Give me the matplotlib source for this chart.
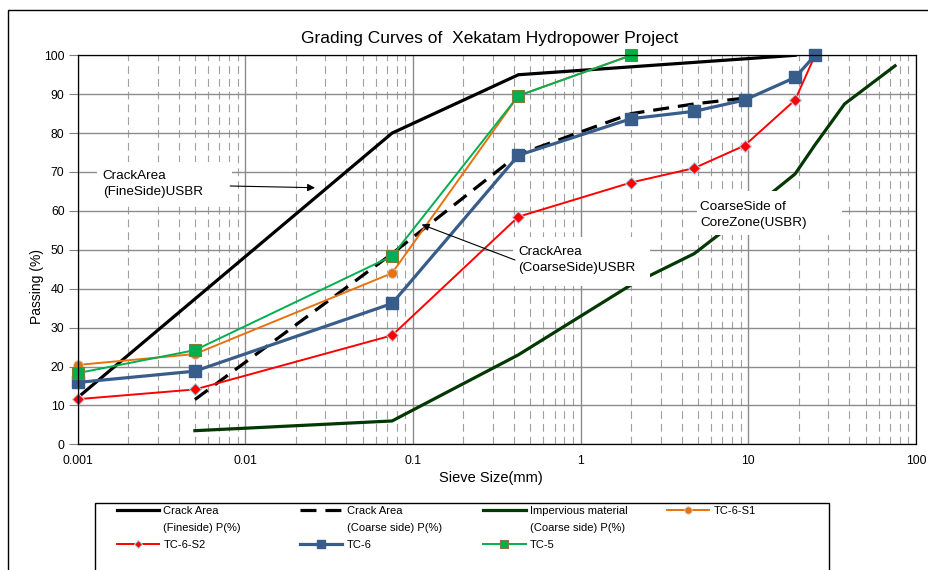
import matplotlib
matplotlib.use("Agg")
import matplotlib.pyplot as plt
from matplotlib.lines import Line2D
from matplotlib.patches import Rectangle
from matplotlib.ticker import FixedLocator, FuncFormatter, LogLocator

plt.rcParams["font.family"] = ["Liberation Sans", "DejaVu Sans"]

# sieve sizes (mm) and passing (%)
sieve_fine = [0.001, 0.075, 0.425, 19]
pass_fine = [12, 80, 95, 100]

sieve_coarse = [0.005, 0.075, 0.425, 2, 4.75, 9.5]
pass_coarse = [11.5, 49, 74.5, 85, 87.5, 89]

sieve_imperv = [0.005, 0.075, 0.425, 2, 4.75, 9.5, 19, 25, 37.5, 75]
pass_imperv = [3.5, 6, 23, 41, 49, 59, 69.5, 77, 87.5, 97.3]

sieve_tc = [0.001, 0.005, 0.075, 0.425, 2, 4.75, 9.5, 19, 25]
pass_tc6_s1 = [20.4, 23.2, 44, 89.6, 100]
pass_tc6_s2 = [11.6, 14.1, 28, 58.5, 67.3, 71, 76.8, 88.5, 100]
pass_tc6 = [15.9, 18.8, 36.2, 74.3, 83.7, 85.6, 88.5, 94.3, 100]
pass_tc5 = [18.3, 24.2, 48.4, 89.6, 100]

x_ticks = [0.001, 0.01, 0.1, 1, 10, 100]
y_ticks = list(range(0, 101, 10))

W, H = 929, 570
fig = plt.figure(figsize=(W / 100, H / 100), dpi=100)

# outer chart frame (cut off at right / bottom like the reference)
fig.patches.append(Rectangle((8 / W, -0.1), 1.2, 1 - 10 / H + 0.1,
                             transform=fig.transFigure, fill=False,
                             ec="black", lw=1.0, zorder=0))

ax = fig.add_axes([77.7 / W, 1 - 444.3 / H, 838.3 / W, 389 / H])
ax.set_xscale("log")
ax.set_xlim(0.001, 100)
ax.set_ylim(0, 100)

ax.xaxis.set_major_locator(FixedLocator(x_ticks))
ax.xaxis.set_major_formatter(FuncFormatter(lambda v, p: "%g" % v))
ax.xaxis.set_minor_locator(LogLocator(base=10, subs=range(2, 10)))
ax.xaxis.set_minor_formatter(FuncFormatter(lambda v, p: ""))
ax.set_yticks(y_ticks)

ax.grid(which="major", axis="both", color="#8c8c8c", lw=1.0)
ax.grid(which="minor", axis="x", color="#a0a0a0", lw=0.8,
        linestyle=(0, (7, 4.5)))
ax.set_axisbelow(True)

ax.tick_params(axis="x", which="both", length=0, pad=8, labelsize=8.8)
ax.tick_params(axis="y", length=6.5, width=0.8, color="#808080",
               direction="out", pad=3, labelsize=8.8)
for s in ax.spines.values():
    s.set_color("black")
    s.set_linewidth(0.9)

l_fine, = ax.plot(sieve_fine, pass_fine, color="black", lw=2.3,
                  solid_joinstyle="miter")
l_coarse, = ax.plot(sieve_coarse, pass_coarse, color="black", lw=2.3,
                    linestyle=(0, (5, 2.8)))
l_imp, = ax.plot(sieve_imperv, pass_imperv, color="#033803", lw=2.3)
l_s1, = ax.plot(sieve_tc[:5], pass_tc6_s1, color="#E8720C", lw=1.4,
                marker="o", ms=7, mec="#c8cfe0", mew=0.6, clip_on=False)
l_s2, = ax.plot(sieve_tc, pass_tc6_s2, color="#FF0000", lw=1.4,
                marker="D", ms=6, mec="#b9cde5", mew=0.8, clip_on=False)
l_tc6, = ax.plot(sieve_tc, pass_tc6, color="#385D8A", lw=2.3,
                 marker="s", ms=8, mec="#385D8A", clip_on=False)
l_tc5, = ax.plot(sieve_tc[:5], pass_tc5, color="#00B050", lw=1.4,
                 marker="s", ms=8, mec="#7a7f3a", mew=0.8, clip_on=False)

# annotation boxes
boxes = [(0.023, 0.618, 0.161, 0.108),
         (0.519, 0.407, 0.164, 0.126),
         (0.739, 0.538, 0.173, 0.113)]
for (bx, by, bw, bh) in boxes:
    ax.add_patch(Rectangle((bx, by), bw, bh, transform=ax.transAxes,
                           fc="white", ec="none", zorder=5))

txt = dict(transform=ax.transAxes, fontsize=9.7, va="center", ha="left",
           linespacing=1.45, zorder=6)
ax.text(0.0298, 0.669, "CrackArea\n(FineSide)USBR", **txt)
ax.text(0.5256, 0.4746, "CrackArea\n(CoarseSide)USBR", **txt)
ax.text(0.7423, 0.590, "CoarseSide of\nCoreZone(USBR)", **txt)

arrow = dict(arrowstyle="-|>", color="black", lw=0.8, mutation_scale=11,
             shrinkA=0, shrinkB=0)
ax.annotate("", xy=(0.2831, 0.6596), xytext=(0.1819, 0.664),
            xycoords="axes fraction", arrowprops=arrow, zorder=7)
ax.annotate("", xy=(0.4103, 0.565), xytext=(0.5216, 0.4738),
            xycoords="axes fraction", arrowprops=arrow, zorder=7)

fig.text(490 / W, 1 - 38 / H, "Grading Curves of  Xekatam Hydropower Project",
         ha="center", va="center", fontsize=12.5)
fig.text(491 / W, 1 - 478 / H, "Sieve Size(mm)", ha="center", va="center",
         fontsize=10.5)
fig.text(36.7 / W, 1 - 287 / H, "Passing (%)", ha="center", va="center",
         rotation=90, fontsize=10)

# legend frame
fig.patches.append(Rectangle((95 / W, -0.1), 734 / W, 1 - 503 / H + 0.1,
                             transform=fig.transFigure, fill=False,
                             ec="black", lw=1.0))

blank = Line2D([], [], linestyle="none")
columns = [
    (116.7, [(l_fine, "Crack Area"), (blank, "(Fineside) P(%)"),
             (l_s2, "TC-6-S2")]),
    (300.0, [(l_coarse, "Crack Area"), (blank, "(Coarse side) P(%)"),
             (l_tc6, "TC-6")]),
    (483.3, [(l_imp, "Impervious material"), (blank, "(Coarse side) P(%)"),
             (l_tc5, "TC-5")]),
    (666.7, [(l_s1, "TC-6-S1")]),
]
for x0, entries in columns:
    fig.legend([e[0] for e in entries], [e[1] for e in entries],
               loc="upper left", bbox_to_anchor=(x0 / W, 1 - 506 / H),
               bbox_transform=fig.transFigure, frameon=False, fontsize=8,
               borderpad=0, borderaxespad=0, handlelength=3.8,
               handletextpad=0.4, labelspacing=0.62, markerscale=0.75)

fig.savefig("out.png", dpi=100)
